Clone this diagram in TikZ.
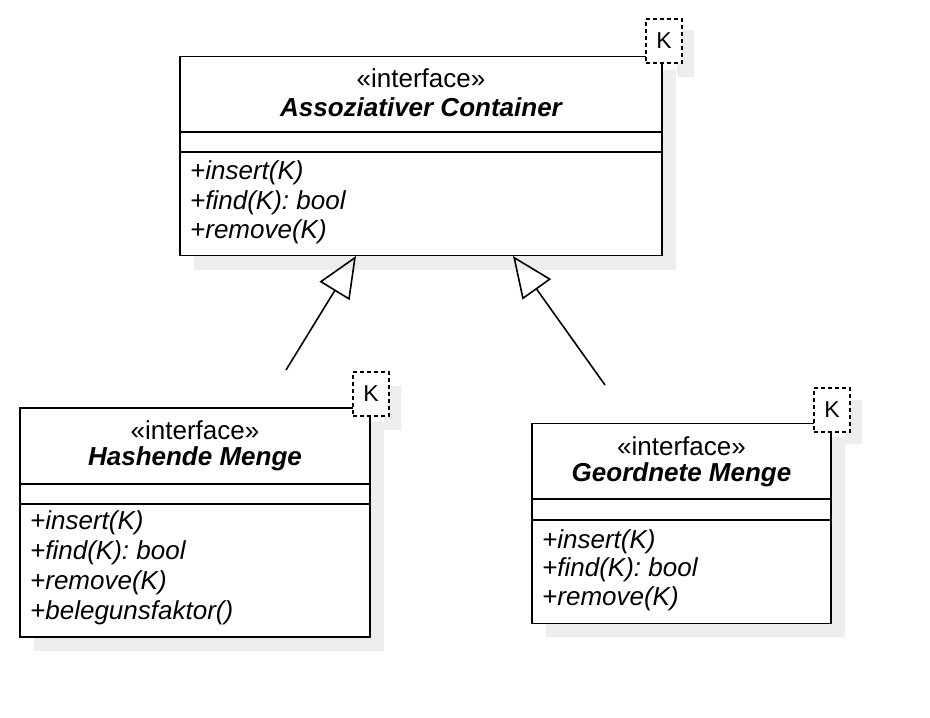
\documentclass[tikz,border=0pt]{standalone}
\usepackage{fontspec}
\setmainfont{Liberation Sans}
\usetikzlibrary{arrows.meta}
\tikzset{
  classbox/.style={draw, line width=1.6pt, fill=white, rectangle, inner sep=0pt},
  shadowfill/.style={fill=black!7, draw=none},
  kbox/.style={draw, dash pattern=on 4pt off 3pt, line width=1.6pt, fill=white, rectangle, inner sep=0pt,
    minimum width=36pt, minimum height=44pt, font=\fontsize{23}{27}\selectfont},
  hdr/.style={font=\fontsize{26}{30}\selectfont, inner sep=0pt},
  ttl/.style={font=\fontsize{26}{30}\selectfont\bfseries\itshape, inner sep=0pt},
  meth/.style={font=\fontsize{26}{30}\selectfont\itshape, anchor=west, inner sep=0pt},
  divider/.style={line width=1.6pt},
  gen/.style={line width=1.6pt, -{Triangle[open, length=41pt, width=35pt, line width=1.6pt]}}
}
\begin{document}
\begin{tikzpicture}[x=1pt, y=-1pt]
\useasboundingbox (0,0) rectangle (930,718);

% ---------- Assoziativer Container ----------
\fill[shadowfill] (194,70) rectangle (676,270);
\node[classbox, minimum width=482pt, minimum height=199pt] (A) at (421,156) {};
\draw[divider] (180,132) -- (662,132);
\draw[divider] (180,152) -- (662,152);
\node[hdr] (Ast) at (421,78) {«interface»};
\node[ttl] (Anm) at (421,107) {Assoziativer Container};
\node[meth] (Am1) at (190,173) {+insert(K)};
\node[meth] (Am2) at (190,203) {+find(K): bool};
\node[meth] (Am3) at (190,232) {+remove(K)};
\fill[shadowfill] (677,30) rectangle (694,77);
\node[kbox] (AK) at (664,41) {K};

% ---------- Hashende Menge ----------
\fill[shadowfill] (34,422) rectangle (384,651);
\node[classbox, minimum width=350pt, minimum height=229pt] (B) at (195,522.5) {};
\draw[divider] (20,484) -- (370,484);
\draw[divider] (20,504) -- (370,504);
\node[hdr] (Bst) at (195,430) {«interface»};
\node[ttl] (Bnm) at (195,459) {Hashende Menge};
\node[meth] (Bm1) at (30,523) {+insert(K)};
\node[meth] (Bm2) at (30,553) {+find(K): bool};
\node[meth] (Bm3) at (30,583) {+remove(K)};
\node[meth] (Bm4) at (30,613) {+belegunsfaktor()};
\fill[shadowfill] (384,386) rectangle (401,430);
\node[kbox] (BK) at (371,394) {K};

% ---------- Geordnete Menge ----------
\fill[shadowfill] (546,437) rectangle (845,637);
\node[classbox, minimum width=299pt, minimum height=200pt] (C) at (681.5,523.5) {};
\draw[divider] (532,499) -- (831,499);
\draw[divider] (532,520) -- (831,520);
\node[hdr] (Cst) at (681.5,446) {«interface»};
\node[ttl] (Cnm) at (681.5,475) {Geordnete Menge};
\node[meth] (Cm1) at (542,542) {+insert(K)};
\node[meth] (Cm2) at (542,570) {+find(K): bool};
\node[meth] (Cm3) at (542,599) {+remove(K)};
\fill[shadowfill] (845,400) rectangle (862,444);
\node[kbox] (CK) at (832,410) {K};

% ---------- generalisations ----------
\coordinate (s1) at (286,370);
\coordinate (t1) at (356,256);
\coordinate (s2) at (605,385);
\coordinate (t2) at (513,256);
\draw[gen] (s1) -- (t1);
\draw[gen] (s2) -- (t2);
\end{tikzpicture}
\end{document}
